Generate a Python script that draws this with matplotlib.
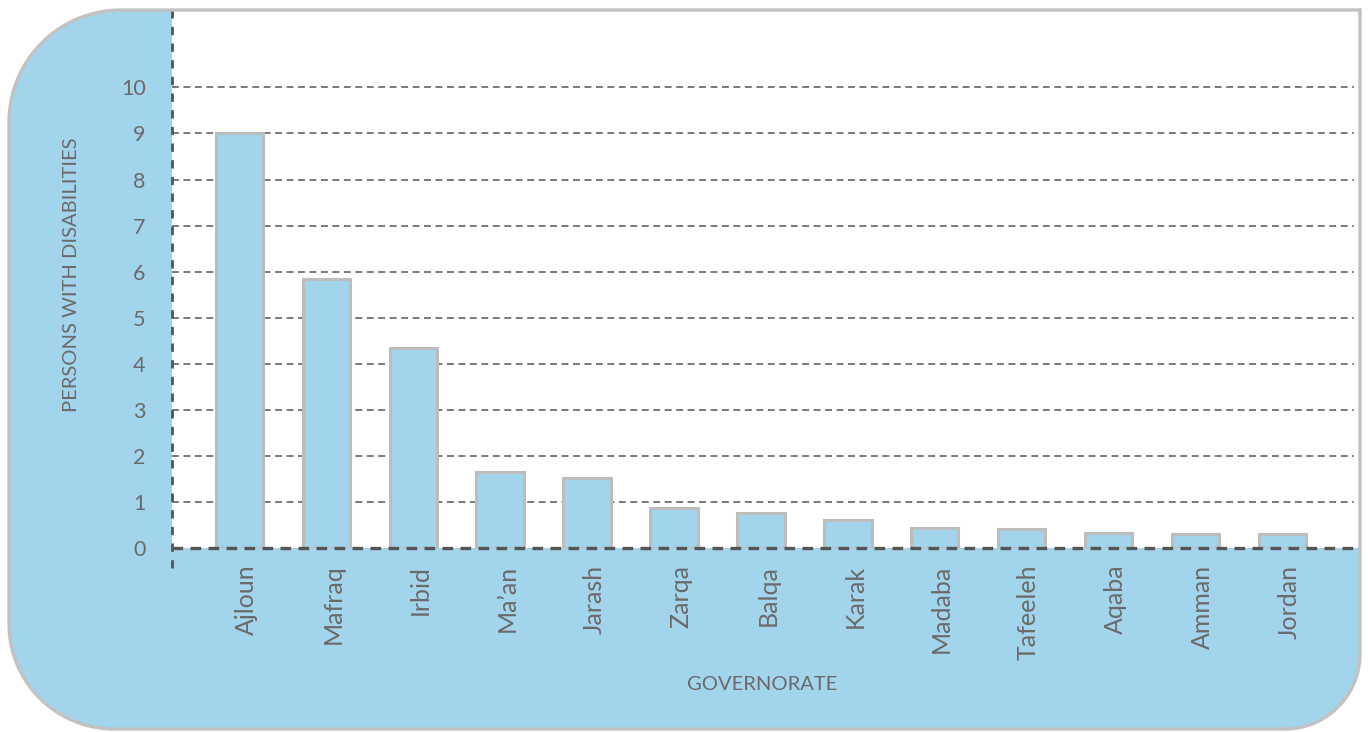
import numpy as np
import matplotlib
matplotlib.use("Agg")
import matplotlib.pyplot as plt
from matplotlib.path import Path
from matplotlib.patches import PathPatch
from matplotlib.lines import Line2D
from matplotlib.transforms import ScaledTranslation

categories = ["Ajloun", "Mafraq", "Irbid", "Ma\u2019an", "Jarash", "Zarqa", "Balqa",
              "Karak", "Madaba", "Tafeeleh", "Aqaba", "Amman", "Jordan"]
values = [9.0, 5.85, 4.35, 1.64, 1.53, 0.86, 0.75, 0.60, 0.44, 0.41, 0.33, 0.30, 0.30]
yticks = list(range(0, 11))
ylabel = "PERSONS WITH DISABILITIES"
xlabel = "GOVERNORATE"

BLUE = "#a2d4ec"
EDGE = "#bdbdbd"
TXT = "#6a6a6a"
GRID = "#555555"

plt.rcParams['font.family'] = ['Lato', 'DejaVu Sans']

W, H = 1368, 732
fig = plt.figure(figsize=(W / 100, H / 100), dpi=100)
fig.patch.set_facecolor("white")

# rounded background shape (pixel coords, y up)
def rounded_path(x0, y0, x1, y1, r_tl, r_tr, r_br, r_bl, n=30):
    pts = []
    def arc(cx, cy, r, a0, a1):
        for t in np.linspace(a0, a1, n):
            pts.append((cx + r * np.cos(t), cy + r * np.sin(t)))
    if r_bl > 0:
        arc(x0 + r_bl, y0 + r_bl, r_bl, np.pi, 1.5 * np.pi)
    else:
        pts.append((x0, y0))
    if r_br > 0:
        arc(x1 - r_br, y0 + r_br, r_br, 1.5 * np.pi, 2 * np.pi)
    else:
        pts.append((x1, y0))
    if r_tr > 0:
        arc(x1 - r_tr, y1 - r_tr, r_tr, 0, 0.5 * np.pi)
    else:
        pts.append((x1, y1))
    if r_tl > 0:
        arc(x0 + r_tl, y1 - r_tl, r_tl, 0.5 * np.pi, np.pi)
    else:
        pts.append((x0, y1))
    pts.append(pts[0])
    pts = np.array(pts)
    pts[:, 0] /= W
    pts[:, 1] /= H
    codes = [Path.MOVETO] + [Path.LINETO] * (len(pts) - 2) + [Path.CLOSEPOLY]
    return Path(pts, codes)

shape = rounded_path(9, 3, 1360, 722, 112, 0, 75, 105)
fig.patches.append(PathPatch(shape, transform=fig.transFigure, facecolor=BLUE,
                             edgecolor="none", zorder=-5))
fig.patches.append(PathPatch(shape, transform=fig.transFigure, facecolor="none",
                             edgecolor="#c2c2c2", linewidth=2.4, zorder=20))

ax_l, ax_r, ax_t, ax_b = 172, 1360, 10, 548
ax = fig.add_axes([ax_l / W, 1 - ax_b / H, (ax_r - ax_l) / W, (ax_b - ax_t) / H])
ax.set_facecolor("white")

x = np.arange(len(categories))
ax.bar(x, values, width=0.547, color=BLUE, edgecolor=EDGE, linewidth=2.2, zorder=2)

ax.set_xlim(-0.777, 12.894)
ax.set_ylim(0, 11.68)

for s in ax.spines.values():
    s.set_visible(False)

# grid lines
for v in yticks[1:]:
    ax.axhline(v, color=GRID, linewidth=1.1, linestyle=(0, (4.5, 3)), zorder=1, xmax=0.995)
# x axis line (thick dashed)
ax.axhline(0, color=GRID, linewidth=2.4, linestyle=(0, (3.2, 2.2)), zorder=5, clip_on=False)
# left dashed spine extending below
ax.add_line(Line2D([0, 0], [-20 / 538, 1], transform=ax.transAxes, color=GRID,
                   linewidth=2.0, linestyle=(0, (3, 3)), clip_on=False, zorder=6))

ax.set_yticks(yticks)
ax.set_yticklabels([str(v) for v in yticks])
ax.set_xticks(x)
ax.set_xticklabels(categories, rotation=90)
ax.tick_params(axis='y', length=0, pad=19, labelsize=15.5, labelcolor=TXT)
ax.tick_params(axis='x', length=0, pad=12, labelsize=18, labelcolor=TXT)
shift = ScaledTranslation(7 / 100, 0, fig.dpi_scale_trans)
for lab in ax.get_xticklabels():
    lab.set_transform(lab.get_transform() + shift)

ax.set_ylabel(ylabel, color=TXT, fontsize=14.5)
fig.text(762 / W, 1 - 684 / H, xlabel, color=TXT, fontsize=14.5, ha='center',
         va='center')
ax.yaxis.set_label_coords(-(172 - 80) / (ax_r - ax_l), 0.5 + (279 - 275) / 538)

fig.savefig("out.png", dpi=100, facecolor="white")
